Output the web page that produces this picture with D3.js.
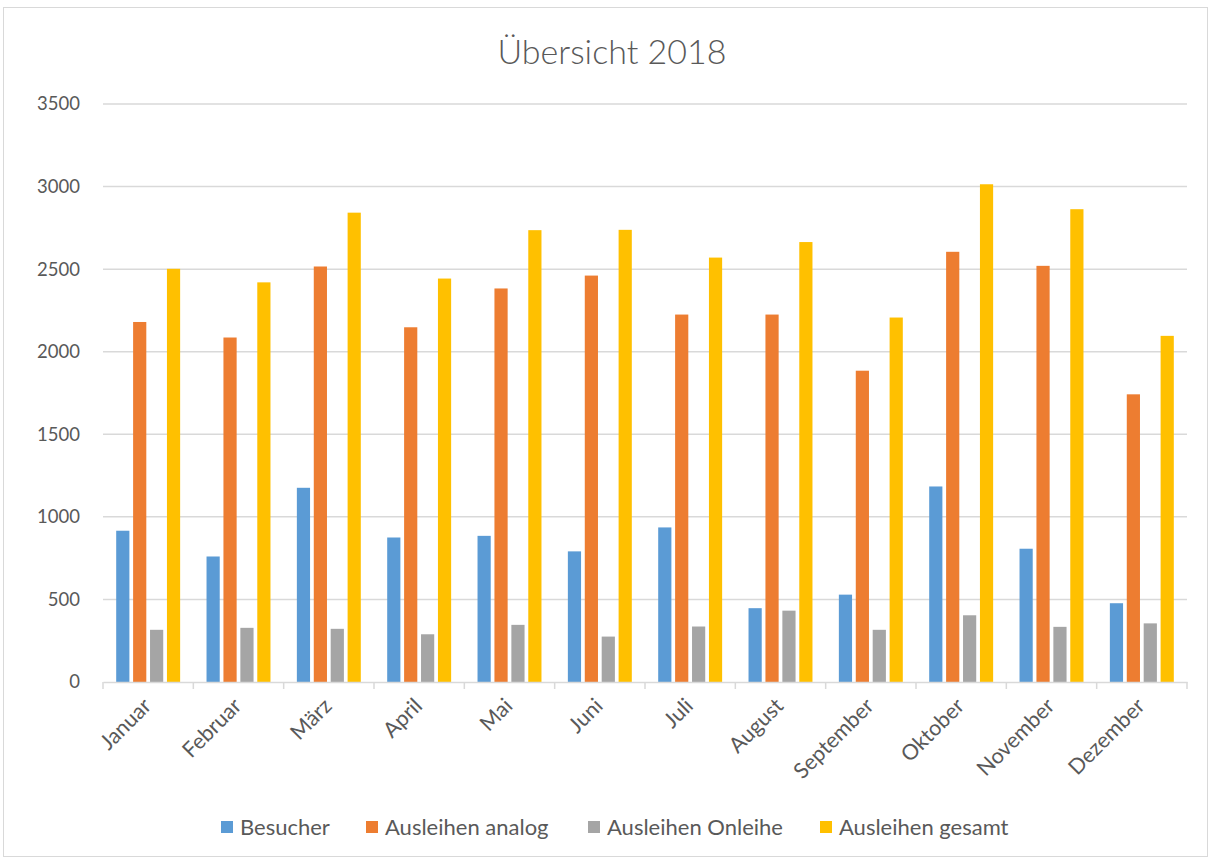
<!DOCTYPE html>
<html><head><meta charset="utf-8">
<script src="https://cdn.jsdelivr.net/npm/d3@7"></script>
<style>body{margin:0;background:#fff;} text{font-family:Lato, "Open Sans", sans-serif;}</style>
</head><body><svg id="c" width="1212" height="861"></svg>
<script>
const months = ["Januar","Februar","März","April","Mai","Juni","Juli","August","September","Oktober","November","Dezember"];
const seriesNames = ["Besucher","Ausleihen analog","Ausleihen Onleihe","Ausleihen gesamt"];
const colors = ["#5b9bd5","#ed7d31","#a5a5a5","#ffc000"];
const besucher = [916,760,1176,875,885,791,936,447,529,1184,807,477];
const analog = [2180,2086,2516,2148,2383,2461,2225,2225,1885,2605,2520,1742];
const onleihe = [316,328,322,289,346,275,336,432,316,404,334,355];
const gesamt = [2502,2420,2842,2443,2736,2738,2570,2664,2207,3014,2863,2096];
const yTicks = [0,500,1000,1500,2000,2500,3000,3500];
const seriesValues = [besucher, analog, onleihe, gesamt];

const svg = d3.select("#c");
svg.append("rect").attr("x",3.5).attr("y",7.5).attr("width",1204).attr("height",849)
  .attr("fill","#fff").attr("stroke","#d9d9d9").attr("stroke-width",1);

const pLeft=103, pRight=1187, pTop=104, pBottom=682;
const x0 = d3.scaleBand().domain(months).range([pLeft,pRight]).padding(0);
const x1 = d3.scaleBand().domain(seriesNames).range([0,x0.bandwidth()]).paddingInner(0.22).paddingOuter(0.78);
const y = d3.scaleLinear().domain([0,3500]).range([pBottom,pTop]);

// gridlines
svg.append("g").selectAll("line").data(yTicks.filter(d=>d>0)).join("line")
  .attr("x1",pLeft).attr("x2",pRight).attr("y1",d=>y(d)).attr("y2",d=>y(d))
  .attr("stroke","#d9d9d9").attr("stroke-width",1.5);

// y labels
svg.append("g").selectAll("text").data(yTicks).join("text")
  .attr("x",80).attr("y",d=>y(d)).attr("dy","0.35em").attr("text-anchor","end")
  .attr("fill","#595959").attr("font-size",18.5).text(d=>d);

// bars
const g = svg.append("g");
months.forEach((m,i)=>{
  seriesNames.forEach((s,j)=>{
    const v = seriesValues[j][i];
    g.append("rect").attr("x",x0(m)+x1(s)).attr("y",y(v)).attr("width",x1.bandwidth())
      .attr("height",y(0)-y(v)).attr("fill",colors[j]);
  });
});

// x axis
const xa = svg.append("g").attr("transform",`translate(0,${pBottom})`)
  .call(d3.axisBottom(x0).tickSize(0).tickFormat(""));
xa.select(".domain").attr("stroke","#d9d9d9").attr("stroke-width",1.5);
const bounds = months.map(m=>x0(m)).concat([pRight]);
svg.append("g").selectAll("line").data(bounds).join("line")
  .attr("x1",d=>d).attr("x2",d=>d).attr("y1",pBottom).attr("y2",pBottom+7)
  .attr("stroke","#d9d9d9").attr("stroke-width",1.5);

svg.append("g").selectAll("text").data(months).join("text")
  .attr("transform",d=>`translate(${x0(d)+x0.bandwidth()/2-1},${pBottom+20}) rotate(-45)`)
  .attr("text-anchor","end").attr("dy","0.35em").attr("fill","#595959").attr("font-size",21.5).text(d=>d);

// title
svg.append("text").attr("x",612).attr("y",64).attr("text-anchor","middle")
  .attr("fill","#595959").attr("font-size",34).attr("font-weight",300).text("Übersicht 2018");

// legend
const legX = [221,366,588,820];
const leg = svg.append("g");
seriesNames.forEach((s,j)=>{
  leg.append("rect").attr("x",legX[j]).attr("y",821).attr("width",12).attr("height",12).attr("fill",colors[j]);
  leg.append("text").attr("x",legX[j]+19).attr("y",827).attr("dy","0.35em")
    .attr("fill","#595959").attr("font-size",22).text(s);
});
</script></body></html>
